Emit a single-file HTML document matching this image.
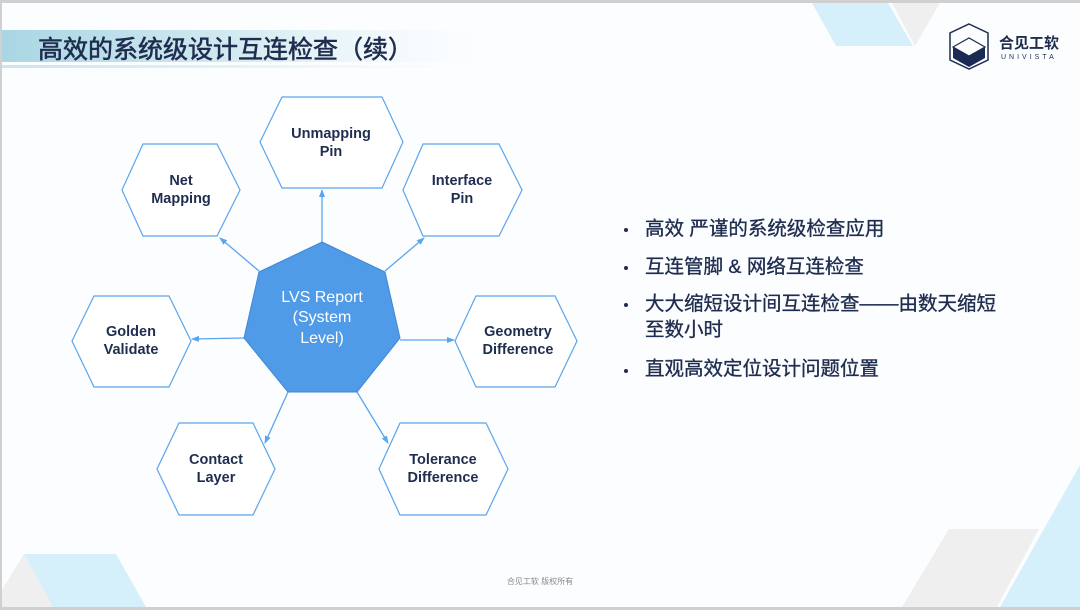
<!DOCTYPE html>
<html><head><meta charset="utf-8"><style>
html,body{margin:0;padding:0;}
body{width:1080px;height:610px;overflow:hidden;background:#fff;font-family:"Liberation Sans","Noto Sans CJK SC",sans-serif;position:relative;}
svg{position:absolute;left:0;top:0;}
.b{position:absolute;left:645px;font-size:19.5px;line-height:24px;color:#1f2d4f;font-weight:normal;-webkit-text-stroke:0.35px #1f2d4f;font-family:"Liberation Sans","Noto Sans CJK SC",sans-serif;white-space:nowrap;}
.d{position:absolute;left:624px;width:4px;height:4px;border-radius:2px;background:#1f2d4f;}
</style></head><body>
<svg width="1080" height="610" viewBox="0 0 1080 610">
<defs>
<linearGradient id="tb" x1="0" x2="1" y1="0" y2="0">
<stop offset="0" stop-color="#a9d6e3"/><stop offset="0.5" stop-color="#d8edf3"/><stop offset="1" stop-color="#fdfeff" stop-opacity="0"/></linearGradient>
<marker id="ar" markerWidth="8" markerHeight="8" refX="7" refY="4" orient="auto" markerUnits="userSpaceOnUse"><path d="M0,1 L8,4 L0,7z" fill="#5aa5ec"/></marker>
</defs>
<rect x="0" y="0" width="1080" height="610" fill="#fcfdff"/>
<rect x="0" y="0" width="1080" height="3" fill="#d0d0d0"/>
<rect x="0" y="0" width="2" height="610" fill="#d0d0d0"/>
<rect x="0" y="607" width="1080" height="3" fill="#d0d0d0"/>
<polygon points="812,3 888,3 913,46 836,46" fill="#d5effb"/>
<polygon points="892,3 940,3 915,46" fill="#efefef"/>
<rect x="2" y="30" width="520" height="32" fill="url(#tb)"/>
<rect x="2" y="65" width="520" height="3" fill="url(#tb)" opacity="0.6"/>
<text x="38" y="58" font-size="25" fill="#1f2d4f" stroke="#1f2d4f" stroke-width="0.6" font-family="Liberation Sans,Noto Sans CJK SC,sans-serif">高效的系统级设计互连检查（续）</text>
<polygon points="969,24 988,33 988,60 969,69 950,60 950,33" fill="none" stroke="#1f2d4f" stroke-width="1.5"/>
<polygon points="953,47 969,38 985,47 969,56" fill="#fff" stroke="#1f2d4f" stroke-width="1.2"/>
<polygon points="953,47 969,56 985,47 985,58 969,67 953,58" fill="#1a2a55"/>
<text x="999" y="48" font-size="15" font-weight="bold" fill="#1f2d4f" font-family="Liberation Sans,Noto Sans CJK SC,sans-serif">合见工软</text>
<text x="1001" y="59" font-size="7" letter-spacing="3" fill="#1f2d4f">UNIVISTA</text>
<polygon points="2,590 24,554 53,607 2,607" fill="#efefef"/>
<polygon points="24,554 116,554 146,607 53,607" fill="#d5effb"/>
<polygon points="949,529 1039,529 997,607 902,607" fill="#efefef"/>
<polygon points="1080,465 1080,607 1000,607" fill="#d5effb"/>
<text x="540" y="584" font-size="8" fill="#888" text-anchor="middle" font-family="Liberation Sans,Noto Sans CJK SC,sans-serif">合见工软 版权所有</text>
<g stroke="#5aa5ec" stroke-width="1.3" fill="none" marker-end="url(#ar)">
<line x1="322" y1="242" x2="322" y2="190"/>
<line x1="259" y1="271" x2="220" y2="238"/>
<line x1="385" y1="271" x2="424" y2="238"/>
<line x1="244" y1="338" x2="192" y2="339"/>
<line x1="400" y1="340" x2="454" y2="340"/>
<line x1="288" y1="392" x2="265" y2="443"/>
<line x1="357" y1="392" x2="388" y2="443"/>
</g>
<polygon points="322,242 385,272 400,338 357,392 288,392 244,338 259,272" fill="#4f9be8" stroke="#3f88d6" stroke-width="1"/>
<g font-size="16" fill="#fff" text-anchor="middle"><text x="322" y="302">LVS Report</text><text x="322" y="322">(System</text><text x="322" y="343">Level)</text></g>
<g fill="#fff" stroke="#5aa5ec" stroke-width="1.2">
<polygon points="282,97 382,97 403,142 382,188 282,188 260,142"/>
<polygon points="143,144 217,144 240,190 217,236 143,236 122,190"/>
<polygon points="423,144 499,144 522,190 499,236 423,236 403,190"/>
<polygon points="94,296 169,296 191,341 169,387 94,387 72,341"/>
<polygon points="476,296 555,296 577,341 555,387 476,387 455,341"/>
<polygon points="179,423 253,423 275,469 253,515 179,515 157,469"/>
<polygon points="400,423 486,423 508,469 486,515 400,515 379,469"/>
</g>
<g font-size="14.5" fill="#1f2d4f" text-anchor="middle" font-weight="bold">
<text x="331" y="138">Unmapping</text><text x="331" y="156">Pin</text>
<text x="181" y="185">Net</text><text x="181" y="203">Mapping</text>
<text x="462" y="185">Interface</text><text x="462" y="203">Pin</text>
<text x="131" y="336">Golden</text><text x="131" y="354">Validate</text>
<text x="518" y="336">Geometry</text><text x="518" y="354">Difference</text>
<text x="216" y="464">Contact</text><text x="216" y="482">Layer</text>
<text x="443" y="464">Tolerance</text><text x="443" y="482">Difference</text>
</g>
</svg>
<div class="d" style="top:228px"></div><div class="b" style="top:217px">高效 严谨的系统级检查应用</div>
<div class="d" style="top:266px"></div><div class="b" style="top:255px">互连管脚 &amp; 网络互连检查</div>
<div class="d" style="top:303px"></div><div class="b" style="top:292px">大大缩短设计间互连检查——由数天缩短</div>
<div class="b" style="top:318px">至数小时</div>
<div class="d" style="top:369px"></div><div class="b" style="top:357px">直观高效定位设计问题位置</div>
</body></html>
